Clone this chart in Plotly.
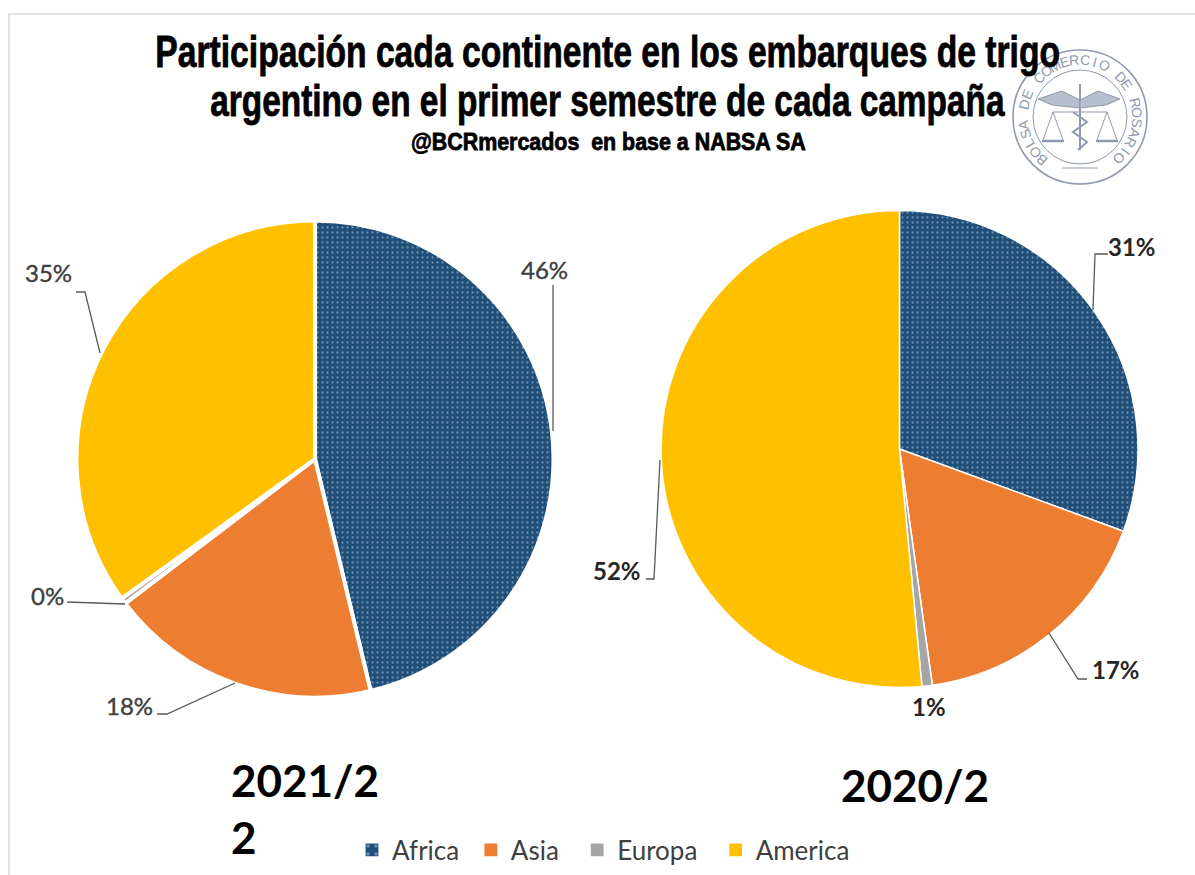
import json
import math
import plotly.graph_objects as go

W, H = 1195, 875

# ---- data ----
continents = ["Africa", "Asia", "Europa", "America"]
shares_2021 = [46.25, 18.4, 0.4, 34.95]
shares_2020 = [30.6, 17.2, 0.7, 51.5]
colors = ["#1F4E79", "#ED7D31", "#A5A5A5", "#FFC000"]
campaign_left = "2021/2<br>2"
campaign_right = "2020/2"
title_lines = ["Participación cada continente en los embarques de trigo",
               "argentino en el primer semestre de cada campaña"]
subtitle = "@BCRmercados  en base a NABSA SA"
seal_text = "BOLSA DE COMERCIO DE ROSARIO"

# legend spacing between entries, in no-break spaces
legend_pad = [1, 2, 2, 0]
legend_labels = [c + "\u00a0" * n for c, n in zip(continents, legend_pad)]

# ---- layout helpers (pixels to paper) ----
def px(x):
    return x / W
def py(y):
    return 1 - y / H

def domain(cx, cy, r):
    return dict(x=[px(cx - r), px(cx + r)], y=[py(cy + r), py(cy - r)])

def pie(vals, dom, gap):
    pattern = dict(shape=[".", "", "", ""], fgcolor="#B9CBDD", bgcolor=colors[0],
                   size=5, solidity=0.16, fillmode="overlay")
    return go.Pie(labels=legend_labels, values=vals, sort=False, direction="clockwise",
                  rotation=0, domain=dom, textinfo="none", hoverinfo="label+percent",
                  marker=dict(colors=colors, line=dict(color="white", width=gap), pattern=pattern))

fig = go.Figure([
    pie(shares_2021, domain(315, 459, 238.5), 4),
    pie(shares_2020, domain(899.5, 449, 238.5), 1.5),
])

shapes, annotations = [], []

def polyline(points, color="#595959", width=1.3, fill=None):
    d = "M " + " L ".join(f"{px(x):.5f},{py(y):.5f}" for x, y in points)
    if fill:
        d += " Z"
    shapes.append(dict(type="path", path=d, xref="paper", yref="paper", fillcolor=fill,
                       line=dict(color=color, width=width), layer="above"))

def text(x, y, s, size, color="#000", family="Lato", anchor="center", angle=0):
    annotations.append(dict(x=px(x), y=py(y), xref="paper", yref="paper", text=s, showarrow=False,
                            xanchor=anchor, yanchor="middle", textangle=angle,
                            font=dict(size=size, color=color, family=family)))

# outer frame of the picture
polyline([(9, H), (9, 14), (W, 14)], "#E3E3E3", 2)

# seal
SX, SY, SR = 1080, 117, 67
SEAL = "#8F99AF"
def circle(r, width):
    shapes.append(dict(type="circle", xref="paper", yref="paper", x0=px(SX - r), x1=px(SX + r),
                       y0=py(SY + r), y1=py(SY - r), line=dict(color=SEAL, width=width), layer="above"))
circle(SR, 1.6)
circle(47, 1.0)
for i, ch in enumerate(seal_text):
    ang = 222 + i * (275 / (len(seal_text) - 1))
    a = math.radians(ang)
    text(SX + 57 * math.sin(a), SY - 57 * math.cos(a), ch, 14, SEAL, "Liberation Sans", angle=ang % 360)
# wings, staff and scales
polyline([(1080, 84), (1080, 150)], SEAL, 2)
polyline([(1080, 100), (1062, 91), (1038, 99), (1052, 105), (1080, 108)], SEAL, 1, "#B7BECD")
polyline([(1080, 100), (1098, 91), (1120, 99), (1106, 105), (1080, 108)], SEAL, 1, "#B7BECD")
polyline([(1073, 112), (1087, 122), (1073, 132), (1087, 142), (1078, 150)], SEAL, 2)
polyline([(1053, 112), (1107, 112)], SEAL, 1)
for c in (1053, 1107):
    polyline([(c - 10, 140), (c, 112), (c + 10, 140)], SEAL, 1)
    polyline([(c - 11, 141), (c + 11, 141)], SEAL, 2.5)
polyline([(1062, 168), (1098, 168)], SEAL, 1)

# leader lines
leaders = [
    [(553, 285), (553, 431)],
    [(76, 292), (85, 292), (100, 353)],
    [(67, 602), (125, 604)],
    [(157, 714), (167, 714), (235, 683)],
    [(1108, 254), (1095, 254), (1093, 310)],
    [(1087, 679), (1078, 679), (1049, 633)],
    [(646, 579), (654, 579), (660, 460)],
]
for pts in leaders:
    polyline(pts)

# data labels, worded from the values
label_pos_2021 = [(544, 270), (129, 705), (47, 595), (48, 272)]
label_pos_2020 = [(1132, 247), (1116, 669), (929, 706), (617, 570)]
for v, (x, y) in zip(shares_2021, label_pos_2021):
    text(x, y, f"{v:.0f}%", 24, "#404040", "Lato")
for v, (x, y) in zip(shares_2020, label_pos_2020):
    text(x, y, f"<b>{v:.0f}%</b>", 24, "#262626", "Lato")

# title block
BOLD = "Liberation Sans"
text(607, 52, f"<b>{title_lines[0]}</b>", 44, "#000", BOLD)
text(607, 100, f"<b>{title_lines[1]}</b>", 44, "#000", BOLD)
text(608, 141, f"<b>{subtitle}</b>", 24, "#000", BOLD)

# campaign captions
annotations.append(dict(x=px(229), y=py(808), xref="paper", yref="paper", text=f"<b>{campaign_left}</b>",
                        showarrow=False, xanchor="left", yanchor="middle", align="left",
                        font=dict(size=44, color="#000", family="Lato")))
text(915, 785, f"<b>{campaign_right}</b>", 44, "#000", "Lato")

fig.update_layout(
    width=W, height=H, margin=dict(l=0, r=0, t=0, b=0),
    paper_bgcolor="white", plot_bgcolor="white",
    shapes=shapes, annotations=annotations,
    legend=dict(orientation="h", x=px(352), xanchor="left", y=py(850), yanchor="middle",
                font=dict(size=26, color="#404040", family="Lato"), itemwidth=30,
                bgcolor="rgba(0,0,0,0)"),
)

# The reference title face is condensed and heavy: narrow the real text to the measured widths.
title_widths = {title_lines[0]: 905, title_lines[1]: 795, subtitle: 395}
post = """
document.body.style.margin='0';
var widths = %s;
document.querySelectorAll('.annotation-text').forEach(function(t){
  var w = widths[t.textContent];
  if(w){
    var b = t.getBBox();
    t.style.transformBox='fill-box';
    t.style.transformOrigin='center';
    t.style.transform='scaleX('+(w/b.width)+')';
    t.style.stroke='#000';
    t.style.strokeWidth='0.8px';
  } else if(/^[0-9]+%%$/.test(t.textContent) && !t.querySelector('tspan[style*="bold"]')){
    t.style.stroke='#404040';
    t.style.strokeWidth='0.4px';
  }
});
document.querySelectorAll('.legendpoints path').forEach(function(p){
  p.setAttribute('transform', (p.getAttribute('transform')||'')+' scale(1.6)');
});
""" % json.dumps(title_widths, ensure_ascii=False)
fig.write_html("out.html", post_script=post, config={"displayModeBar": False})
